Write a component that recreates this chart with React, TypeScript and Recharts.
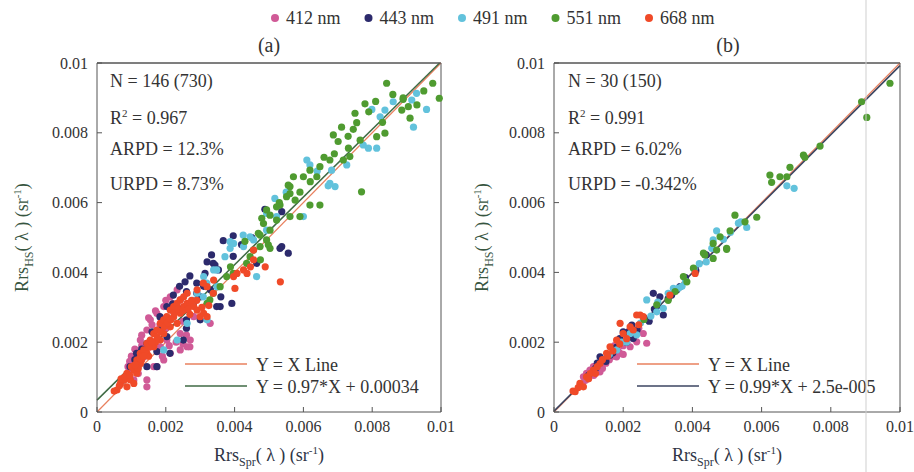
import { ReferenceLine, Scatter, ScatterChart, XAxis, YAxis } from "recharts";

const SERIF = '"Liberation Serif", "DejaVu Serif", serif';

const TICKS = [0, 0.002, 0.004, 0.006, 0.008, 0.01];
const BANDS = ["412 nm", "443 nm", "491 nm", "551 nm", "668 nm"];
const BAND_COLORS = ["#d05a97", "#2c2a6c", "#62c2dc", "#4f9b30", "#f04a28"];

// Rrs pairs [Spr, HS], in units of 1e-3 sr^-1
// panel (a)
const A412 = [
	[2.33, 3.5], [2.13, 3.3], [2.42, 3.21], [1.94, 3.02], [1.74, 2.83], [1.55, 2.64], [1.45, 2.35],
	[1.26, 2.06], [1.36, 1.87], [1.16, 1.68], [1.07, 1.39], [0.97, 1.2], [0.87, 1.01], [2.62, 1.87],
	[2.71, 2.06], [2.42, 1.78], [2.13, 1.68], [1.94, 1.49], [1.65, 1.3], [1.45, 0.92], [1.45, 0.72],
	[2.42, 2.25], [3.29, 2.54], [2.81, 2.73], [1.94, 2.54], [1.65, 2.25], [1.74, 2.06], [1.84, 1.87],
	[2.03, 2.06], [1.55, 1.87], [1.36, 1.58], [1.16, 1.3], [1.07, 0.92], [1.74, 1.3], [2.2, 2.9],
	[1.3, 1.9], [1.0, 1.6], [2.5, 2.6], [2.1, 1.9], [1.6, 2.5], [1.2, 1.1], [0.9, 1.3], [2.0, 2.4],
	[2.6, 2.2], [1.85, 2.7], [2.7, 1.87], [1.83, 2.49], [1.3, 2.2], [1.5, 2.7], [1.7, 2.9],
	[2.0, 3.2], [2.2, 3.1], [1.1, 1.8], [0.95, 1.45], [2.3, 2.0], [2.5, 1.95], [1.9, 1.6],
];
const A443 = [
	[3.67, 4.91], [3.96, 5.05], [5.37, 5.74], [4.88, 5.81], [5.37, 4.74], [5.32, 4.69], [5.56, 4.55],
	[3.33, 4.5], [3.38, 4.26], [3.14, 3.97], [3.53, 4.07], [3.96, 4.46], [3.58, 3.02], [3.92, 3.11],
	[4.64, 4.26], [3.43, 4.21], [2.56, 3.73], [2.9, 3.69], [2.6, 3.45], [2.22, 3.35], [3.48, 3.02],
	[3.0, 3.3], [2.36, 2.97], [2.03, 3.02], [1.83, 2.73], [3.0, 2.64], [2.6, 2.64], [2.6, 2.4],
	[2.51, 2.06], [2.03, 2.16], [1.74, 1.73], [1.45, 1.97], [1.15, 1.68], [0.96, 1.3], [1.45, 1.3],
	[1.25, 1.49], [0.76, 0.92], [2.12, 1.68], [1.74, 1.3], [3.6, 3.3], [4.2, 4.8], [2.8, 3.1],
	[1.9, 2.45], [3.1, 3.6], [4.5, 5.0], [2.4, 3.6], [2.7, 3.9], [3.2, 4.3], [2.2, 3.1], [1.6, 2.3],
	[1.3, 1.8], [2.9, 3.4], [3.3, 3.5], [2.0, 2.6], [1.1, 1.5],
];
const A491 = [
	[9.58, 8.67], [9.2, 8.16], [8.61, 8.89], [8.37, 8.65], [7.99, 8.67], [9.15, 8.94], [8.13, 7.56],
	[7.89, 7.56], [7.74, 7.65], [7.26, 7.08], [6.82, 6.93], [6.92, 6.46], [6.77, 6.55], [6.1, 7.22],
	[6.19, 7.08], [6.0, 5.6], [5.22, 5.6], [4.45, 5.02], [4.25, 5.07], [3.87, 4.88], [9.29, 9.13],
	[8.23, 8.46], [6.72, 6.48], [4.93, 5.69], [5.17, 6.12], [4.55, 4.93], [4.93, 5.21], [3.87, 4.69],
	[3.72, 4.45], [4.64, 3.88], [3.48, 4.07], [3.19, 3.69], [3.09, 3.3], [3.97, 4.83], [4.26, 4.74],
	[3.39, 4.07], [3.1, 3.88], [3.49, 3.59], [2.91, 3.4], [3.2, 2.64], [2.33, 2.06], [2.62, 2.54],
	[1.94, 1.78], [2.8, 3.2], [2.2, 2.7], [5.5, 6.3], [6.4, 6.9],
];
const A551 = [
	[8.42, 9.42], [9.76, 9.42], [9.95, 8.99], [8.9, 8.96], [7.79, 8.83], [7.5, 8.56], [7.55, 8.29],
	[7.11, 8.16], [6.87, 7.94], [7.45, 8.1], [7.01, 7.75], [7.65, 7.79], [8.13, 7.89], [8.37, 7.99],
	[9.1, 8.42], [9.05, 8.75], [8.86, 8.65], [7.35, 7.32], [7.16, 7.22], [6.77, 7.22], [6.48, 7.03],
	[6.19, 6.93], [6.39, 6.74], [5.71, 6.74], [6.0, 6.74], [7.69, 6.31], [6.48, 5.93], [6.19, 5.93],
	[5.61, 6.46], [5.51, 6.17], [5.22, 5.88], [4.93, 5.79], [5.22, 5.5], [5.61, 5.6], [4.84, 5.4],
	[5.03, 5.21], [4.74, 5.07], [5.9, 5.6], [7.31, 7.56], [5.56, 6.5], [5.61, 6.26], [5.76, 6.07],
	[5.32, 5.93], [4.79, 5.55], [5.03, 5.64], [4.69, 5.12], [4.93, 4.93], [4.74, 4.74], [5.03, 4.69],
	[4.55, 4.64], [4.45, 4.45], [4.35, 4.26], [3.96, 3.97], [3.77, 3.88], [3.58, 3.59], [3.38, 3.4],
	[3.28, 3.21], [4.3, 4.89], [4.75, 4.36], [3.88, 4.16], [3.2, 3.11], [4.98, 4.79], [6.6, 7.3],
	[8.9, 9.0], [9.3, 8.8], [7.9, 8.6], [8.1, 8.9], [8.6, 9.1], [9.5, 9.2], [7.3, 7.9], [6.2, 6.6],
	[5.9, 6.3], [5.3, 6.0], [6.9, 7.4], [8.3, 8.3],
];
const A668 = [
	[0.58, 0.63], [0.68, 0.82], [0.78, 0.92], [0.87, 1.11], [1.07, 1.2], [0.97, 0.92], [1.16, 1.49],
	[1.26, 1.68], [1.36, 1.78], [1.45, 1.97], [1.55, 2.06], [1.65, 2.25], [1.74, 2.35], [1.84, 2.54],
	[1.94, 2.64], [2.03, 2.73], [2.13, 2.92], [2.23, 3.02], [2.33, 3.11], [2.42, 3.21], [2.52, 3.02],
	[2.62, 3.11], [2.71, 3.11], [2.81, 3.02], [2.91, 2.92], [3.0, 2.73], [3.1, 2.83], [3.2, 2.73],
	[1.94, 2.25], [1.84, 2.06], [1.65, 1.87], [1.45, 1.68], [1.26, 1.39], [1.16, 1.11], [1.07, 0.82],
	[0.87, 0.72], [2.23, 2.73], [2.33, 2.54], [2.13, 2.44], [2.42, 2.83], [2.62, 3.4], [2.52, 3.3],
	[2.91, 3.5], [3.39, 3.78], [3.2, 3.59], [3.97, 3.88], [4.07, 3.97], [4.26, 4.07], [4.36, 3.97],
	[4.46, 4.16], [4.55, 4.36], [4.89, 4.16], [5.33, 3.73], [4.55, 4.64], [3.09, 3.69], [3.38, 3.4],
	[4.01, 3.54], [0.5, 0.6], [0.7, 0.95], [1.0, 1.3], [1.3, 1.5], [1.5, 1.6], [1.7, 2.0], [2.0, 2.5],
	[2.7, 2.8], [2.9, 3.2], [1.2, 1.25], [1.4, 1.75], [0.65, 0.75], [0.8, 1.0], [0.95, 1.05],
	[1.1, 1.35], [1.25, 1.55], [1.35, 1.6], [1.5, 1.85], [1.6, 2.0], [1.75, 2.15], [1.85, 2.3],
	[1.95, 2.45], [2.05, 2.55], [2.15, 2.65], [2.25, 2.85], [2.35, 2.95], [2.5, 2.9], [2.65, 2.95],
	[2.75, 3.2], [3.05, 3.0], [3.25, 3.05],
];

// panel (b)
const B412 = [
	[2.2, 1.87], [2.68, 1.97], [2.39, 2.01], [1.91, 1.68], [1.14, 1.3], [1.04, 1.2], [1.23, 1.15],
	[0.94, 1.11], [2.2, 2.35], [2.58, 2.25], [1.81, 1.58], [1.33, 1.15], [0.85, 1.01], [1.5, 1.4],
	[1.7, 1.6], [2.0, 1.9], [1.25, 1.35], [0.98, 0.95], [2.3, 2.1], [1.6, 1.5], [1.4, 1.25],
	[2.1, 2.2], [1.15, 1.05], [1.85, 1.75], [2.45, 2.4], [1.05, 1.1], [1.75, 1.9], [2.0, 1.65],
	[1.3, 1.2], [0.9, 0.9],
];
const B443 = [
	[2.87, 3.4], [3.06, 3.3], [3.16, 2.78], [3.55, 3.5], [3.64, 3.59], [2.0, 2.3], [1.42, 1.49],
	[1.33, 1.58], [2.29, 2.11], [2.25, 2.49], [1.62, 1.63], [1.2, 1.25], [2.6, 2.7], [3.3, 3.25],
	[3.8, 3.85], [4.1, 4.05], [2.4, 2.35], [1.8, 1.85], [1.5, 1.45], [2.9, 2.95], [3.4, 3.35],
	[1.0, 1.05], [2.1, 2.0], [1.7, 1.7], [4.4, 4.5], [2.75, 2.6], [1.9, 2.1], [3.0, 3.05],
	[1.25, 1.4], [2.15, 2.3],
];
const B491 = [
	[6.73, 6.48], [6.94, 6.41], [5.33, 5.41], [5.57, 5.29], [4.7, 5.19], [4.6, 4.93], [4.56, 4.69],
	[3.16, 2.97], [2.97, 2.87], [2.39, 2.21], [2.68, 3.21], [3.45, 3.54], [1.81, 1.78], [3.8, 3.75],
	[4.2, 4.25], [2.5, 2.55], [3.3, 3.4], [5.1, 5.15], [2.2, 2.25], [4.9, 4.95], [1.6, 1.65],
	[3.0, 3.15], [4.4, 4.3], [2.8, 2.75], [3.6, 3.55], [5.4, 5.45], [1.95, 2.0], [2.1, 2.0],
	[4.05, 4.1], [3.7, 3.6],
];
const B551 = [
	[9.71, 9.42], [8.89, 8.89], [9.04, 8.44], [7.69, 7.62], [7.21, 7.36], [6.82, 7.01], [6.24, 6.79],
	[6.29, 6.58], [6.53, 6.74], [6.73, 6.74], [5.86, 5.58], [5.52, 5.45], [5.23, 5.64], [5.09, 5.19],
	[4.8, 5.02], [4.99, 4.66], [4.7, 4.64], [4.36, 4.5], [4.6, 4.4], [4.6, 4.83], [4.99, 4.69],
	[4.32, 4.55], [3.74, 3.88], [3.84, 3.73], [4.03, 4.12], [2.97, 3.07], [7.25, 7.3], [3.3, 3.2],
	[2.6, 2.65], [3.5, 3.45],
];
const B668 = [
	[4.08, 3.97], [3.35, 3.35], [2.49, 2.78], [1.91, 2.54], [2.2, 2.44], [2.0, 2.25], [1.81, 2.06],
	[1.62, 1.87], [1.52, 1.68], [1.33, 1.39], [1.14, 1.2], [0.94, 1.01], [0.75, 0.82], [0.61, 0.58],
	[0.85, 0.72], [2.58, 2.73], [2.39, 2.78], [2.29, 2.35], [1.7, 1.75], [1.4, 1.5], [1.25, 1.3],
	[1.05, 1.1], [2.1, 2.1], [1.9, 1.95], [0.7, 0.7], [1.55, 1.6], [2.45, 2.5], [1.0, 0.95],
	[1.2, 1.1], [0.55, 0.6],
];

const STATS_A = ["146 (730)", "0.967", "12.3%", "8.73%"];
const STATS_B = ["30 (150)", "0.991", "6.02%", "-0.342%"];
const FIT_A = [0.97, 0.00034];
const FIT_B = [0.99, 2.5e-5];
const FIT_LABEL_A = "Y = 0.97*X + 0.00034";
const FIT_LABEL_B = "Y = 0.99*X + 2.5e-005";

const toPoints = (arr: number[][]) => arr.map(([x, y]) => ({ x: x / 1000, y: y / 1000 }));

const tickStyle = { fill: "#333", fontSize: 16, fontFamily: SERIF };

const Dot = (props: any) => <circle cx={props.cx} cy={props.cy} r={3.6} fill={props.fill} />;

const XTitle = (props: any) => {
	const { x, y, width } = props.viewBox;
	return (
		<text x={x + width / 2} y={y + 49} textAnchor="middle" fontFamily={SERIF} fontSize={18} fill="#2f3545">
			Rrs<tspan fontSize={12} dy={5}>Spr</tspan>
			<tspan dy={-5}>( λ ) (sr</tspan>
			<tspan fontSize={11} dy={-7}>-1</tspan>
			<tspan dy={7}>)</tspan>
		</text>
	);
};

const YTitle = (props: any) => {
	const { y, height } = props.viewBox;
	const bx = props.baseX;
	const cy = y + height / 2;
	return (
		<text
			x={bx}
			y={cy}
			transform={`rotate(-90 ${bx} ${cy})`}
			textAnchor="middle"
			fontFamily={SERIF}
			fontSize={18}
			fill="#37553f"
		>
			Rrs<tspan fontSize={12} dy={5}>HS</tspan>
			<tspan dy={-5}>( λ ) (sr</tspan>
			<tspan fontSize={11} dy={-7}>-1</tspan>
			<tspan dy={7}>)</tspan>
		</text>
	);
};

type PanelProps = {
	left: number;
	width: number;
	marginRight: number;
	series: number[][][];
	stats: string[];
	fit: number[];
	fitLabel: string;
	fitColor: string;
	annotX: number;
	legendX: number;
	yTitleX: number;
};

const Panel = ({ left, width, marginRight, series, stats, fit, fitLabel, fitColor, annotX, legendX, yTitleX }: PanelProps) => {
	const [m, b] = fit;
	const xEnd = Math.min(0.01, (0.01 - b) / m);

	return (
		<div style={{ position: "absolute", left, top: 0, width, height: 472 }}>
			<ScatterChart width={width} height={472} margin={{ top: 62, right: marginRight, bottom: 30, left: 57 }}>
				<XAxis
					type="number"
					dataKey="x"
					domain={[0, 0.01]}
					ticks={TICKS}
					height={30}
					stroke="#555"
					tickSize={-5}
					tickMargin={14}
					tick={tickStyle}
					label={<XTitle />}
				/>
				<XAxis xAxisId="top" orientation="top" type="number" domain={[0, 0.01]} ticks={TICKS} height={1} stroke="#555" tickSize={-5} tick={false} />
				<YAxis
					type="number"
					dataKey="y"
					domain={[0, 0.01]}
					ticks={TICKS}
					width={40}
					stroke="#555"
					tickSize={-5}
					tickMargin={14}
					tick={tickStyle}
					label={<YTitle baseX={yTitleX} />}
				/>
				<YAxis yAxisId="right" orientation="right" type="number" domain={[0, 0.01]} ticks={TICKS} width={1} stroke="#555" tickSize={-5} tick={false} />

				{series.map((pts, i) => (
					<Scatter
						key={BANDS[i]}
						name={BANDS[i]}
						data={toPoints(pts)}
						fill={BAND_COLORS[i]}
						shape={Dot}
						isAnimationActive={false}
					/>
				))}

				<ReferenceLine y={0.01} stroke="#555" strokeWidth={1} />
				<ReferenceLine segment={[{ x: 0, y: 0 }, { x: 0.01, y: 0.01 }]} stroke="#e8805e" strokeWidth={1.2} />
				<ReferenceLine segment={[{ x: 0, y: b }, { x: xEnd, y: m * xEnd + b }]} stroke={fitColor} strokeWidth={1.5} />
			</ScatterChart>

			<svg width={width} height={472} style={{ position: "absolute", left: 0, top: 0, pointerEvents: "none" }}>
				<g fontFamily={SERIF} fontSize={18} fill="#333">
					<text x={annotX} y={87}>N = {stats[0]}</text>
					<text x={annotX} y={124}>
						R<tspan fontSize={11} dy={-7}>2</tspan>
						<tspan dy={7}> = {stats[1]}</tspan>
					</text>
					<text x={annotX} y={155}>ARPD = {stats[2]}</text>
					<text x={annotX} y={190}>URPD = {stats[3]}</text>

					<line x1={legendX} x2={legendX + 62} y1={364} y2={364} stroke="#e8805e" strokeWidth={1.5} />
					<text x={legendX + 71} y={371}>Y = X Line</text>
					<line x1={legendX} x2={legendX + 62} y1={386} y2={386} stroke={fitColor} strokeWidth={1.5} />
					<text x={legendX + 71} y={393}>{fitLabel}</text>
				</g>
			</svg>
		</div>
	);
};

const App = () => {
	return (
		<div style={{ position: "absolute", left: 0, top: 0, width: 914, height: 472, background: "#fff", overflow: "hidden" }}>
			<Panel
				left={0}
				width={460}
				marginRight={18}
				series={[A412, A443, A491, A551, A668]}
				stats={STATS_A}
				fit={FIT_A}
				fitLabel={FIT_LABEL_A}
				fitColor="#3f6a44"
				annotX={110}
				legendX={185}
				yTitleX={28}
			/>
			<Panel
				left={457}
				width={457}
				marginRight={13}
				series={[B412, B443, B491, B551, B668]}
				stats={STATS_B}
				fit={FIT_B}
				fitLabel={FIT_LABEL_B}
				fitColor="#3b4560"
				annotX={111}
				legendX={180}
				yTitleX={31}
			/>

			<svg width={914} height={472} style={{ position: "absolute", left: 0, top: 0, pointerEvents: "none" }}>
				<g fontFamily={SERIF} fill="#333">
					{BANDS.map((name, i) => (
						<g key={name}>
							<circle cx={275 + i * 93.5} cy={18} r={4} fill={BAND_COLORS[i]} />
							<text x={286 + i * 93.5} y={24} fontSize={18}>{name}</text>
						</g>
					))}
					<text x={269} y={52} fontSize={20} textAnchor="middle">(a)</text>
					<text x={728} y={52} fontSize={20} textAnchor="middle">(b)</text>
				</g>
				<line x1={866} x2={866} y1={0} y2={472} stroke="#cfcfcf" strokeWidth={1} />
			</svg>
		</div>
	);
};

export default App;
